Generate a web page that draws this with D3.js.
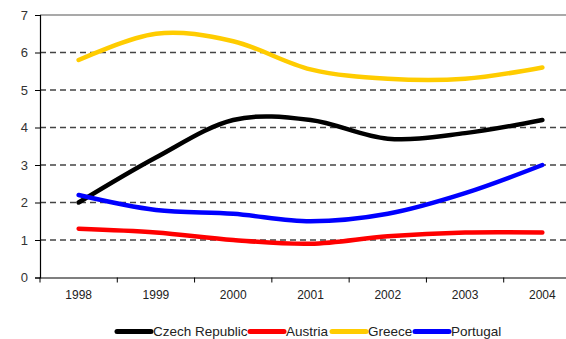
<!DOCTYPE html>
<html>
<head>
<meta charset="utf-8">
<script src="https://cdn.jsdelivr.net/npm/d3@7"></script>
<style>
  html, body { margin: 0; padding: 0; background: #fff; }
  svg { display: block; font-family: "Liberation Sans", Arial, sans-serif; }
</style>
</head>
<body>
<svg id="chart" width="566" height="339"></svg>
<script>
// Category labels and series values
const years = ["1998", "1999", "2000", "2001", "2002", "2003", "2004"];
const czech = [2.0, 3.2, 4.2, 4.2, 3.7, 3.85, 4.2];
const austria = [1.3, 1.2, 1.0, 0.9, 1.1, 1.2, 1.2];
const greece = [5.8, 6.5, 6.3, 5.55, 5.3, 5.3, 5.6];
const portugal = [2.2, 1.8, 1.7, 1.5, 1.7, 2.25, 3.0];
const yTicks = [0, 1, 2, 3, 4, 5, 6, 7];
const seriesNames = ["Czech Republic", "Austria", "Greece", "Portugal"];
const seriesColors = ["#000000", "#ff0000", "#ffcc00", "#0000ff"];

const series = [czech, austria, greece, portugal].map((vals, i) => ({
  name: seriesNames[i], color: seriesColors[i], values: vals
}));

const svg = d3.select("#chart");
const plotLeft = 40, plotRight = 581, plotTop = 15, plotBottom = 277.5;

const x = d3.scaleBand().domain(years).range([plotLeft, plotRight]);
const y = d3.scaleLinear().domain([0, 7]).range([plotBottom, plotTop]);

// Dashed horizontal gridlines
svg.append("g")
  .selectAll("line")
  .data(yTicks.filter(t => t > 0 && t < 7))
  .join("line")
  .attr("x1", plotLeft).attr("x2", plotRight)
  .attr("y1", d => y(d)).attr("y2", d => y(d))
  .attr("stroke", "#444")
  .attr("stroke-width", 1.3)
  .attr("stroke-dasharray", "6,4");

// Plot frame top edge
svg.append("line")
  .attr("x1", plotLeft).attr("x2", plotRight)
  .attr("y1", y(7)).attr("y2", y(7))
  .attr("stroke", "#8c8c8c").attr("stroke-width", 1.5);

// Y axis
const yAxis = svg.append("g")
  .attr("transform", `translate(${plotLeft},0)`)
  .call(d3.axisLeft(y).tickValues(yTicks).tickSize(5).tickPadding(7).tickFormat(d3.format("d")));
yAxis.select(".domain").attr("stroke", "#000").attr("stroke-width", 1.2);
yAxis.selectAll(".tick line").attr("stroke", "#000");
yAxis.selectAll(".tick text")
  .attr("font-size", 13)
  .attr("fill", "#333")
  .attr("font-family", "Liberation Sans, Arial, sans-serif");

// X axis: labels centred in each band, tick marks on band edges
const xAxis = svg.append("g")
  .attr("transform", `translate(0,${plotBottom})`)
  .call(d3.axisBottom(x).tickSize(0).tickPadding(13));
xAxis.select(".domain").attr("stroke", "#000").attr("stroke-width", 1.2);
xAxis.selectAll(".tick text")
  .attr("font-size", 12)
  .attr("fill", "#222")
  .attr("font-family", "Liberation Sans, Arial, sans-serif");
svg.append("g")
  .selectAll("line")
  .data(years)
  .join("line")
  .attr("x1", d => x(d)).attr("x2", d => x(d))
  .attr("y1", plotBottom).attr("y2", plotBottom + 5)
  .attr("stroke", "#000").attr("stroke-width", 1);

// Smoothed series lines
const line = d3.line()
  .x((d, i) => x(years[i]) + x.bandwidth() / 2)
  .y(d => y(d))
  .curve(d3.curveCatmullRom.alpha(0));

svg.append("g")
  .selectAll("path")
  .data(series)
  .join("path")
  .attr("d", d => line(d.values))
  .attr("fill", "none")
  .attr("stroke", d => d.color)
  .attr("stroke-width", 4.5)
  .attr("stroke-linecap", "round")
  .attr("stroke-linejoin", "round");

// Legend
const legendX = [117, 250, 332, 415];
const legend = svg.append("g").attr("transform", "translate(0,331.5)");
const item = legend.selectAll("g")
  .data(series)
  .join("g")
  .attr("transform", (d, i) => `translate(${legendX[i]},0)`);
item.append("line")
  .attr("x1", 0).attr("x2", 34)
  .attr("y1", 0).attr("y2", 0)
  .attr("stroke", d => d.color)
  .attr("stroke-width", 5)
  .attr("stroke-linecap", "round");
item.append("text")
  .attr("x", 36)
  .attr("y", 0)
  .attr("dy", "0.36em")
  .attr("font-size", 13.5)
  .attr("fill", "#222")
  .text(d => d.name);
</script>
</body>
</html>
